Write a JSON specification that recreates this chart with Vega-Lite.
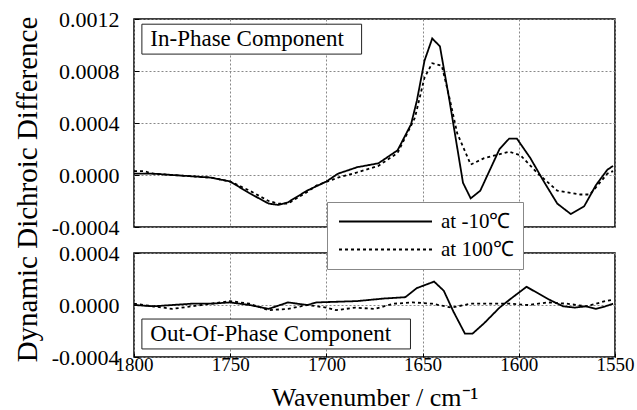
{
  "$schema": "https://vega.github.io/schema/vega-lite/v6.json",
  "autosize": {"type": "pad"},
  "padding": {"left": 12, "top": 7, "right": 0, "bottom": 5},
  "background": "white",
  "bounds": "flush",
  "spacing": 26,
  "config": {
    "font": "Liberation Serif",
    "view": {"stroke": "black", "strokeWidth": 1.5},
    "axis": {
      "labelFont": "Liberation Serif", "labelColor": "black", "labelFontSize": 21,
      "titleFont": "Liberation Serif", "titleFontWeight": "normal", "titleColor": "black",
      "gridColor": "#888", "gridDash": [2, 2], "gridWidth": 1, "domain": false, "tickColor": "black"
    },
    "legend": {"labelFont": "Liberation Serif", "titleFont": "Liberation Serif"}
  },
  "datasets": {
    "spec": [
      {"p":"in","wn":1800,"v":0.00001,"s":"at -10℃"},
      {"p":"in","wn":1790,"v":0.00001,"s":"at -10℃"},
      {"p":"in","wn":1780,"v":0.0,"s":"at -10℃"},
      {"p":"in","wn":1770,"v":-0.00001,"s":"at -10℃"},
      {"p":"in","wn":1760,"v":-0.00002,"s":"at -10℃"},
      {"p":"in","wn":1750,"v":-0.00005,"s":"at -10℃"},
      {"p":"in","wn":1740,"v":-0.00014,"s":"at -10℃"},
      {"p":"in","wn":1730,"v":-0.00022,"s":"at -10℃"},
      {"p":"in","wn":1725,"v":-0.00023,"s":"at -10℃"},
      {"p":"in","wn":1720,"v":-0.00021,"s":"at -10℃"},
      {"p":"in","wn":1710,"v":-0.00012,"s":"at -10℃"},
      {"p":"in","wn":1700,"v":-0.00005,"s":"at -10℃"},
      {"p":"in","wn":1694,"v":0.00001,"s":"at -10℃"},
      {"p":"in","wn":1684,"v":0.00006,"s":"at -10℃"},
      {"p":"in","wn":1673,"v":0.00009,"s":"at -10℃"},
      {"p":"in","wn":1663,"v":0.00019,"s":"at -10℃"},
      {"p":"in","wn":1656,"v":0.00039,"s":"at -10℃"},
      {"p":"in","wn":1653,"v":0.00057,"s":"at -10℃"},
      {"p":"in","wn":1649,"v":0.00088,"s":"at -10℃"},
      {"p":"in","wn":1645,"v":0.00105,"s":"at -10℃"},
      {"p":"in","wn":1641,"v":0.00099,"s":"at -10℃"},
      {"p":"in","wn":1636,"v":0.00057,"s":"at -10℃"},
      {"p":"in","wn":1629,"v":-0.00006,"s":"at -10℃"},
      {"p":"in","wn":1625,"v":-0.00018,"s":"at -10℃"},
      {"p":"in","wn":1620,"v":-0.00012,"s":"at -10℃"},
      {"p":"in","wn":1610,"v":0.0002,"s":"at -10℃"},
      {"p":"in","wn":1605,"v":0.00028,"s":"at -10℃"},
      {"p":"in","wn":1601,"v":0.00028,"s":"at -10℃"},
      {"p":"in","wn":1594,"v":0.00013,"s":"at -10℃"},
      {"p":"in","wn":1587,"v":-0.00005,"s":"at -10℃"},
      {"p":"in","wn":1580,"v":-0.00022,"s":"at -10℃"},
      {"p":"in","wn":1573,"v":-0.0003,"s":"at -10℃"},
      {"p":"in","wn":1566,"v":-0.00024,"s":"at -10℃"},
      {"p":"in","wn":1560,"v":-0.00008,"s":"at -10℃"},
      {"p":"in","wn":1554,"v":0.00004,"s":"at -10℃"},
      {"p":"in","wn":1551,"v":0.00007,"s":"at -10℃"},

      {"p":"in","wn":1800,"v":0.00003,"s":"at 100℃"},
      {"p":"in","wn":1795,"v":0.00003,"s":"at 100℃"},
      {"p":"in","wn":1790,"v":0.00001,"s":"at 100℃"},
      {"p":"in","wn":1780,"v":0.0,"s":"at 100℃"},
      {"p":"in","wn":1770,"v":-0.00001,"s":"at 100℃"},
      {"p":"in","wn":1760,"v":-0.00002,"s":"at 100℃"},
      {"p":"in","wn":1750,"v":-0.00005,"s":"at 100℃"},
      {"p":"in","wn":1740,"v":-0.00012,"s":"at 100℃"},
      {"p":"in","wn":1730,"v":-0.0002,"s":"at 100℃"},
      {"p":"in","wn":1725,"v":-0.00022,"s":"at 100℃"},
      {"p":"in","wn":1720,"v":-0.00022,"s":"at 100℃"},
      {"p":"in","wn":1710,"v":-0.00013,"s":"at 100℃"},
      {"p":"in","wn":1705,"v":-0.00008,"s":"at 100℃"},
      {"p":"in","wn":1694,"v":-0.00002,"s":"at 100℃"},
      {"p":"in","wn":1684,"v":0.00002,"s":"at 100℃"},
      {"p":"in","wn":1673,"v":0.00007,"s":"at 100℃"},
      {"p":"in","wn":1663,"v":0.00017,"s":"at 100℃"},
      {"p":"in","wn":1654,"v":0.00044,"s":"at 100℃"},
      {"p":"in","wn":1649,"v":0.00075,"s":"at 100℃"},
      {"p":"in","wn":1645,"v":0.00086,"s":"at 100℃"},
      {"p":"in","wn":1640,"v":0.00084,"s":"at 100℃"},
      {"p":"in","wn":1636,"v":0.00059,"s":"at 100℃"},
      {"p":"in","wn":1632,"v":0.00032,"s":"at 100℃"},
      {"p":"in","wn":1625,"v":0.00008,"s":"at 100℃"},
      {"p":"in","wn":1618,"v":0.00013,"s":"at 100℃"},
      {"p":"in","wn":1605,"v":0.00018,"s":"at 100℃"},
      {"p":"in","wn":1599,"v":0.00015,"s":"at 100℃"},
      {"p":"in","wn":1590,"v":0.00001,"s":"at 100℃"},
      {"p":"in","wn":1580,"v":-0.00012,"s":"at 100℃"},
      {"p":"in","wn":1568,"v":-0.00015,"s":"at 100℃"},
      {"p":"in","wn":1563,"v":-0.00015,"s":"at 100℃"},
      {"p":"in","wn":1554,"v":0.00001,"s":"at 100℃"},
      {"p":"in","wn":1551,"v":0.00003,"s":"at 100℃"},

      {"p":"out","wn":1800,"v":0.0,"s":"at -10℃"},
      {"p":"out","wn":1790,"v":-0.00001,"s":"at -10℃"},
      {"p":"out","wn":1780,"v":0.0,"s":"at -10℃"},
      {"p":"out","wn":1770,"v":0.00001,"s":"at -10℃"},
      {"p":"out","wn":1760,"v":0.00001,"s":"at -10℃"},
      {"p":"out","wn":1750,"v":0.00002,"s":"at -10℃"},
      {"p":"out","wn":1740,"v":0.0,"s":"at -10℃"},
      {"p":"out","wn":1730,"v":-0.00003,"s":"at -10℃"},
      {"p":"out","wn":1720,"v":0.00002,"s":"at -10℃"},
      {"p":"out","wn":1710,"v":0.0,"s":"at -10℃"},
      {"p":"out","wn":1705,"v":0.00002,"s":"at -10℃"},
      {"p":"out","wn":1684,"v":0.00003,"s":"at -10℃"},
      {"p":"out","wn":1670,"v":0.00005,"s":"at -10℃"},
      {"p":"out","wn":1659,"v":0.00006,"s":"at -10℃"},
      {"p":"out","wn":1653,"v":0.00013,"s":"at -10℃"},
      {"p":"out","wn":1644,"v":0.00018,"s":"at -10℃"},
      {"p":"out","wn":1639,"v":0.00011,"s":"at -10℃"},
      {"p":"out","wn":1634,"v":-0.00005,"s":"at -10℃"},
      {"p":"out","wn":1628,"v":-0.00022,"s":"at -10℃"},
      {"p":"out","wn":1624,"v":-0.00022,"s":"at -10℃"},
      {"p":"out","wn":1618,"v":-0.00014,"s":"at -10℃"},
      {"p":"out","wn":1610,"v":-0.00002,"s":"at -10℃"},
      {"p":"out","wn":1604,"v":0.00005,"s":"at -10℃"},
      {"p":"out","wn":1596,"v":0.00014,"s":"at -10℃"},
      {"p":"out","wn":1590,"v":0.00009,"s":"at -10℃"},
      {"p":"out","wn":1584,"v":0.00004,"s":"at -10℃"},
      {"p":"out","wn":1577,"v":-0.00001,"s":"at -10℃"},
      {"p":"out","wn":1571,"v":-0.00002,"s":"at -10℃"},
      {"p":"out","wn":1565,"v":-0.00001,"s":"at -10℃"},
      {"p":"out","wn":1560,"v":-0.00003,"s":"at -10℃"},
      {"p":"out","wn":1555,"v":-0.00001,"s":"at -10℃"},
      {"p":"out","wn":1551,"v":0.00001,"s":"at -10℃"},

      {"p":"out","wn":1800,"v":0.00001,"s":"at 100℃"},
      {"p":"out","wn":1790,"v":-0.00001,"s":"at 100℃"},
      {"p":"out","wn":1780,"v":-0.00003,"s":"at 100℃"},
      {"p":"out","wn":1770,"v":-0.00001,"s":"at 100℃"},
      {"p":"out","wn":1760,"v":0.00001,"s":"at 100℃"},
      {"p":"out","wn":1750,"v":0.00003,"s":"at 100℃"},
      {"p":"out","wn":1740,"v":0.00001,"s":"at 100℃"},
      {"p":"out","wn":1730,"v":-0.00004,"s":"at 100℃"},
      {"p":"out","wn":1720,"v":-0.00003,"s":"at 100℃"},
      {"p":"out","wn":1710,"v":0.0,"s":"at 100℃"},
      {"p":"out","wn":1700,"v":-0.00002,"s":"at 100℃"},
      {"p":"out","wn":1695,"v":-0.00004,"s":"at 100℃"},
      {"p":"out","wn":1685,"v":-0.00002,"s":"at 100℃"},
      {"p":"out","wn":1675,"v":-0.00003,"s":"at 100℃"},
      {"p":"out","wn":1665,"v":0.00001,"s":"at 100℃"},
      {"p":"out","wn":1655,"v":0.00002,"s":"at 100℃"},
      {"p":"out","wn":1645,"v":0.00001,"s":"at 100℃"},
      {"p":"out","wn":1635,"v":-0.00002,"s":"at 100℃"},
      {"p":"out","wn":1625,"v":0.00001,"s":"at 100℃"},
      {"p":"out","wn":1615,"v":0.00001,"s":"at 100℃"},
      {"p":"out","wn":1605,"v":0.00001,"s":"at 100℃"},
      {"p":"out","wn":1595,"v":0.0,"s":"at 100℃"},
      {"p":"out","wn":1585,"v":0.00002,"s":"at 100℃"},
      {"p":"out","wn":1575,"v":0.00001,"s":"at 100℃"},
      {"p":"out","wn":1565,"v":-0.00001,"s":"at 100℃"},
      {"p":"out","wn":1555,"v":0.00003,"s":"at 100℃"},
      {"p":"out","wn":1551,"v":0.00004,"s":"at 100℃"}
    ],
    "notes": [
      {"p":"in","label":"In-Phase Component","tx":1791.5,"ty":0.00105,"x1":1795.9,"x2":1681.7,"y1":0.00116,"y2":0.00093},
      {"p":"out","label":"Out-Of-Phase Component","tx":1791.5,"ty":-0.000222,"x1":1795.9,"x2":1656.3,"y1":-0.000108,"y2":-0.000338}
    ]
  },
  "vconcat": [
    {
      "width": 481, "height": 208,
      "layer": [
        {
          "data": {"name": "notes"},
          "transform": [{"filter": "datum.p == 'in'"}],
          "mark": {"type": "rect", "fill": "white", "stroke": "#222", "strokeWidth": 1},
          "encoding": {
            "x": {"field": "x1", "type": "quantitative",
                  "scale": {"domain": [1550, 1800], "reverse": true, "nice": false, "zero": false},
                  "axis": {"values": [1800, 1750, 1700, 1650, 1600, 1550], "labels": false, "ticks": false, "title": null, "grid": true}},
            "x2": {"field": "x2"},
            "y": {"field": "y1", "type": "quantitative",
                  "scale": {"domain": [-0.0004, 0.0012], "nice": false, "zero": false},
                  "axis": {
                    "values": [-0.0004,-0.0003,-0.0002,-0.0001,0,0.0001,0.0002,0.0003,0.0004,0.0005,0.0006,0.0007,0.0008,0.0009,0.001,0.0011,0.0012],
                    "labelExpr": "abs(round(datum.value*10000))%4==0 ? replace(format(datum.value,'.4f'),'\u2212','-') : ''",
                    "labelFont": "Liberation Serif", "labelFontSize": 22,
                    "tickSize": -5, "labelPadding": 20,
                    "grid": true,
                    "gridOpacity": {"condition": {"test": "abs(round(datum.value*10000))%4==0", "value": 1}, "value": 0},
                    "title": "Dynamic Dichroic Difference", "titleFont": "Liberation Serif", "titleFontSize": 29,
                    "titleAngle": -90, "titleX": -107, "titleY": 170, "titleAlign": "center", "titleBaseline": "middle"
                  }},
            "y2": {"field": "y2"}
          }
        },
        {
          "data": {"name": "notes"},
          "transform": [{"filter": "datum.p == 'in'"}],
          "mark": {"type": "text", "align": "left", "baseline": "middle", "fontSize": 23, "font": "Liberation Serif", "color": "black"},
          "encoding": {
            "x": {"field": "tx", "type": "quantitative"},
            "y": {"field": "ty", "type": "quantitative"},
            "text": {"field": "label"}
          }
        },
        {
          "data": {"name": "spec"},
          "transform": [{"filter": "datum.p == 'in'"}],
          "mark": {"type": "line", "color": "black", "strokeWidth": 1.8, "clip": true},
          "encoding": {
            "x": {"field": "wn", "type": "quantitative"},
            "y": {"field": "v", "type": "quantitative"},
            "strokeDash": {"field": "s", "type": "nominal",
              "scale": {"domain": ["at -10℃", "at 100℃"], "range": [[1, 0], [3, 3]]},
              "legend": {"orient": "none", "legendX": 193, "legendY": 183, "title": null, "direction": "vertical",
                "symbolType": "M-2.5,0H28.5", "symbolSize": 36, "symbolStrokeWidth": 1.8, "symbolStrokeColor": "black",
                "labelFont": "Liberation Serif", "labelFontSize": 21, "labelColor": "black", "labelOffset": 84, "labelLimit": 300,
                "rowPadding": 6, "padding": 9, "strokeColor": "#888", "fillColor": "white", "cornerRadius": 0,
                "encode": {"symbols": {"update": {"strokeDash": [{"test": "datum.value === 'at 100℃'", "value": [6, 3.5]}, {"value": [1, 0]}]}}}}}
          }
        }
      ]
    },
    {
      "width": 481, "height": 104,
      "layer": [
        {
          "data": {"name": "notes"},
          "transform": [{"filter": "datum.p == 'out'"}],
          "mark": {"type": "rect", "fill": "white", "stroke": "#222", "strokeWidth": 1},
          "encoding": {
            "x": {"field": "x1", "type": "quantitative",
                  "scale": {"domain": [1550, 1800], "reverse": true, "nice": false, "zero": false},
                  "axis": {"values": [1800, 1750, 1700, 1650, 1600, 1550], "format": "d", "labelFlush": false, "ticks": true, "tickSize": -4, "grid": true, "labelPadding": 2,
                           "labelFont": "Liberation Serif", "labelFontSize": 19,
                           "title": "Wavenumber / cm⁻¹", "titleFont": "Liberation Serif", "titleFontSize": 26,
                           "titleY": 48, "titleBaseline": "alphabetic"}},
            "x2": {"field": "x2"},
            "y": {"field": "y1", "type": "quantitative",
                  "scale": {"domain": [-0.0004, 0.0004], "nice": false, "zero": false},
                  "axis": {
                    "values": [-0.0004,-0.0003,-0.0002,-0.0001,0,0.0001,0.0002,0.0003,0.0004],
                    "labelExpr": "abs(round(datum.value*10000))%4==0 ? replace(format(datum.value,'.4f'),'\u2212','-') : ''",
                    "labelFont": "Liberation Serif", "labelFontSize": 22,
                    "tickSize": -5, "labelPadding": 20,
                    "grid": true,
                    "gridOpacity": {"condition": {"test": "abs(round(datum.value*10000))%4==0", "value": 1}, "value": 0},
                    "title": null
                  }},
            "y2": {"field": "y2"}
          }
        },
        {
          "data": {"name": "notes"},
          "transform": [{"filter": "datum.p == 'out'"}],
          "mark": {"type": "text", "align": "left", "baseline": "middle", "fontSize": 23, "font": "Liberation Serif", "color": "black"},
          "encoding": {
            "x": {"field": "tx", "type": "quantitative"},
            "y": {"field": "ty", "type": "quantitative"},
            "text": {"field": "label"}
          }
        },
        {
          "data": {"name": "spec"},
          "transform": [{"filter": "datum.p == 'out'"}],
          "mark": {"type": "line", "color": "black", "strokeWidth": 1.8, "clip": true},
          "encoding": {
            "x": {"field": "wn", "type": "quantitative"},
            "y": {"field": "v", "type": "quantitative"},
            "strokeDash": {"field": "s", "type": "nominal",
              "scale": {"domain": ["at -10℃", "at 100℃"], "range": [[1, 0], [3, 3]]}}
          }
        }
      ]
    }
  ]
}
